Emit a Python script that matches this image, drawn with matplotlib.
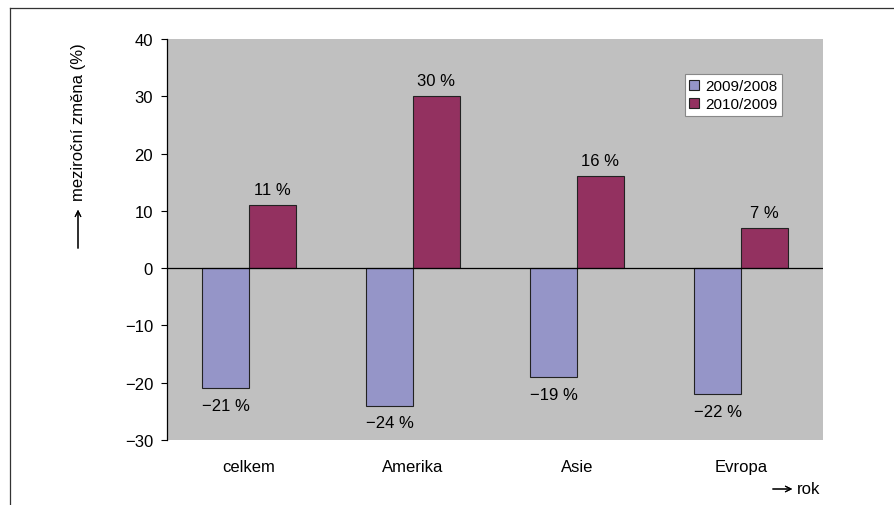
import numpy as np
import matplotlib.pyplot as plt
from matplotlib.lines import Line2D

plt.rcParams['font.family'] = ['Liberation Sans', 'DejaVu Sans']

kategorie = ['celkem', 'Amerika', 'Asie', 'Evropa']
zmena_2009 = [-21, -24, -19, -22]
zmena_2010 = [11, 30, 16, 7]
serie = ['2009/2008', '2010/2009']

modra = '#9595c8'
vinova = '#933160'

fig = plt.figure(figsize=(8.94, 5.06), dpi=100)
ax = fig.add_axes([167 / 894, 1 - 441 / 506, 656 / 894, 401 / 506])
ax.set_facecolor('#c0c0c0')

x = np.arange(len(kategorie))
w = 0.285
ax.bar(x - w / 2, zmena_2009, w, color=modra, edgecolor='#222222', linewidth=0.8, zorder=2)
ax.bar(x + w / 2, zmena_2010, w, color=vinova, edgecolor='#222222', linewidth=0.8, zorder=2)
ax.axhline(0, color='black', linewidth=0.9, zorder=3)

# popisky hodnot
for xi, v in zip(x, zmena_2009):
    ax.annotate('\u2212%d %%' % abs(v), (xi - w / 2, v), xytext=(0, -7), textcoords='offset points',
                ha='center', va='top', fontsize=12)
for xi, v in zip(x, zmena_2010):
    ax.annotate('%d %%' % v, (xi + w / 2, v), xytext=(0, 6), textcoords='offset points',
                ha='center', va='bottom', fontsize=12)

ax.set_xlim(-0.5, 3.5)
ax.set_ylim(-30, 40)
ax.set_yticks(range(-30, 41, 10))
ax.set_yticklabels([str(t).replace('-', '\u2212') for t in range(-30, 41, 10)], fontsize=12)
ax.set_xticks(x)
ax.set_xticklabels(kategorie, fontsize=12)
ax.tick_params(axis='x', length=0, pad=14)
ax.tick_params(axis='y', length=4, width=0.8, pad=6)
for s in ['top', 'right', 'bottom']:
    ax.spines[s].set_visible(False)
ax.spines['left'].set_linewidth(0.9)

handles = [Line2D([], [], marker='s', linestyle='', markersize=6.5, markerfacecolor=modra,
                  markeredgecolor='#222222', markeredgewidth=0.8),
           Line2D([], [], marker='s', linestyle='', markersize=6.5, markerfacecolor=vinova,
                  markeredgecolor='#222222', markeredgewidth=0.8)]
leg = ax.legend(handles, serie, loc='upper left', bbox_to_anchor=(0.79, 0.912), fontsize=11,
                frameon=True, fancybox=False, framealpha=1, edgecolor='#888888',
                handlelength=0.6, handletextpad=0.4, borderpad=0.3, labelspacing=0.3,
                borderaxespad=0)
leg.get_frame().set_linewidth(0.8)

# ramecek obrazku
fig.add_artist(Line2D([10 / 894, 1], [1 - 9 / 506] * 2, color='#333333', linewidth=0.9))
fig.add_artist(Line2D([10 / 894] * 2, [0, 1 - 9 / 506], color='#333333', linewidth=0.9))

# popisky os se sipkami
fig.text(79 / 894, 1 - 122 / 506, 'meziroční změna (%)', rotation=90, ha='center', va='center', fontsize=12)
fig.add_artist(plt.annotate('', xy=(78 / 894, 1 - 208 / 506), xytext=(78 / 894, 1 - 252 / 506),
                            xycoords='figure fraction',
                            arrowprops=dict(arrowstyle='->', color='black', lw=0.8)))
fig.text(797 / 894, 1 - 490 / 506, 'rok', ha='left', va='center', fontsize=12)
fig.add_artist(plt.annotate('', xy=(795 / 894, 1 - 490 / 506), xytext=(770 / 894, 1 - 490 / 506),
                            xycoords='figure fraction',
                            arrowprops=dict(arrowstyle='->', color='black', lw=0.8)))

fig.savefig('out.png', dpi=100)
